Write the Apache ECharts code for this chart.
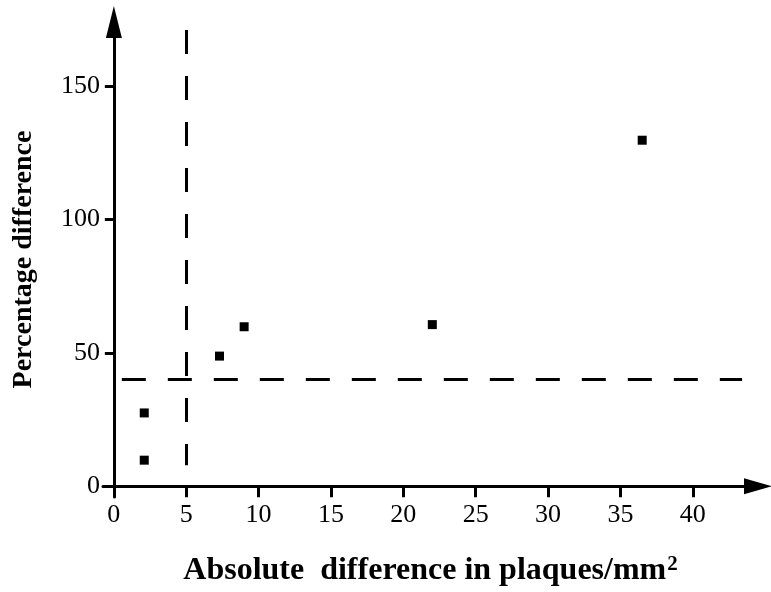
<!DOCTYPE html>
<html>
<head>
<meta charset="utf-8">
<script src="https://cdn.jsdelivr.net/npm/echarts@6/dist/echarts.min.js"></script>
<style>
  html, body { margin: 0; padding: 0; background: #fff; }
  #chart { width: 771px; height: 592px; }
</style>
</head>
<body>
<div id="chart"></div>
<script>
// Absolute difference (plaques/mm²) vs percentage difference
const absDiff = [2.1, 2.1, 7.3, 9.0, 22.0, 36.5];
const pctDiff = [27.5, 9.8, 48.8, 59.8, 60.6, 129.7];

// Tick values shown on each axis
const xTicks = [0, 5, 10, 15, 20, 25, 30, 35, 40];
const yTicks = [0, 50, 100, 150];

// Threshold lines: x = 5 and y = 40, with their drawn extents
const xThreshold = 5;
const xThresholdSpan = [171, 7.9];
const yThreshold = 40;
const yThresholdSpan = [0.55, 43.4];

const points = absDiff.map((x, i) => [x, pctDiff[i]]);

const serif = '"Liberation Serif", "Times New Roman", serif';
const ink = '#000';

const chart = echarts.init(document.getElementById('chart'), null, { renderer: 'canvas' });

const axisCommon = {
  type: 'value',
  splitLine: { show: false },
  axisLine: {
    show: true,
    onZero: true,
    symbol: ['none', 'triangle'],
    lineStyle: { color: ink, width: 3 }
  },
  axisTick: { show: true, lineStyle: { color: ink, width: 3 } },
  axisLabel: { color: ink, fontFamily: serif, fontSize: 26 }
};

chart.setOption({
  animation: false,
  backgroundColor: '#fff',
  grid: { left: 103, right: 13, top: 22, bottom: 95, containLabel: false, outerBoundsMode: 'none' },
  xAxis: Object.assign({}, axisCommon, {
    min: -0.75,
    max: 44.5,
    axisLine: Object.assign({}, axisCommon.axisLine, { symbolSize: [16, 28] }),
    axisTick: Object.assign({}, axisCommon.axisTick, { length: 11, customValues: xTicks }),
    axisLabel: Object.assign({}, axisCommon.axisLabel, { margin: 5, customValues: xTicks }),
    name: '{t|Absolute  difference in plaques/mm}{s|2}',
    nameLocation: 'middle',
    nameGap: 57,
    nameTextStyle: {
      rich: {
        t: { fontFamily: serif, fontSize: 32, fontWeight: 'bold', color: ink },
        s: { fontFamily: serif, fontSize: 21, fontWeight: 'bold', color: ink, verticalAlign: 'top', padding: [0, 0, 12, 1] }
      }
    }
  }),
  yAxis: Object.assign({}, axisCommon, {
    min: -4,
    max: 174,
    axisLine: Object.assign({}, axisCommon.axisLine, { symbolSize: [16, 32] }),
    axisTick: Object.assign({}, axisCommon.axisTick, { length: 9, customValues: yTicks }),
    axisLabel: Object.assign({}, axisCommon.axisLabel, { margin: 3, customValues: yTicks }),
    name: 'Percentage difference',
    nameLocation: 'middle',
    nameGap: 65,
    nameTextStyle: { fontFamily: serif, fontSize: 28, fontWeight: 'bold', color: ink }
  }),
  series: [{
    type: 'scatter',
    data: points,
    symbol: 'rect',
    symbolSize: 9,
    itemStyle: { color: ink, opacity: 1 },
    markLine: {
      silent: true,
      symbol: ['none', 'none'],
      label: { show: false },
      lineStyle: { color: ink, width: 3, type: [24, 22], opacity: 1 },
      data: [
        [{ coord: [xThreshold, xThresholdSpan[0]] }, { coord: [xThreshold, xThresholdSpan[1]] }],
        [{ coord: [yThresholdSpan[0], yThreshold] }, { coord: [yThresholdSpan[1], yThreshold] }]
      ]
    }
  }]
});
</script>
</body>
</html>
